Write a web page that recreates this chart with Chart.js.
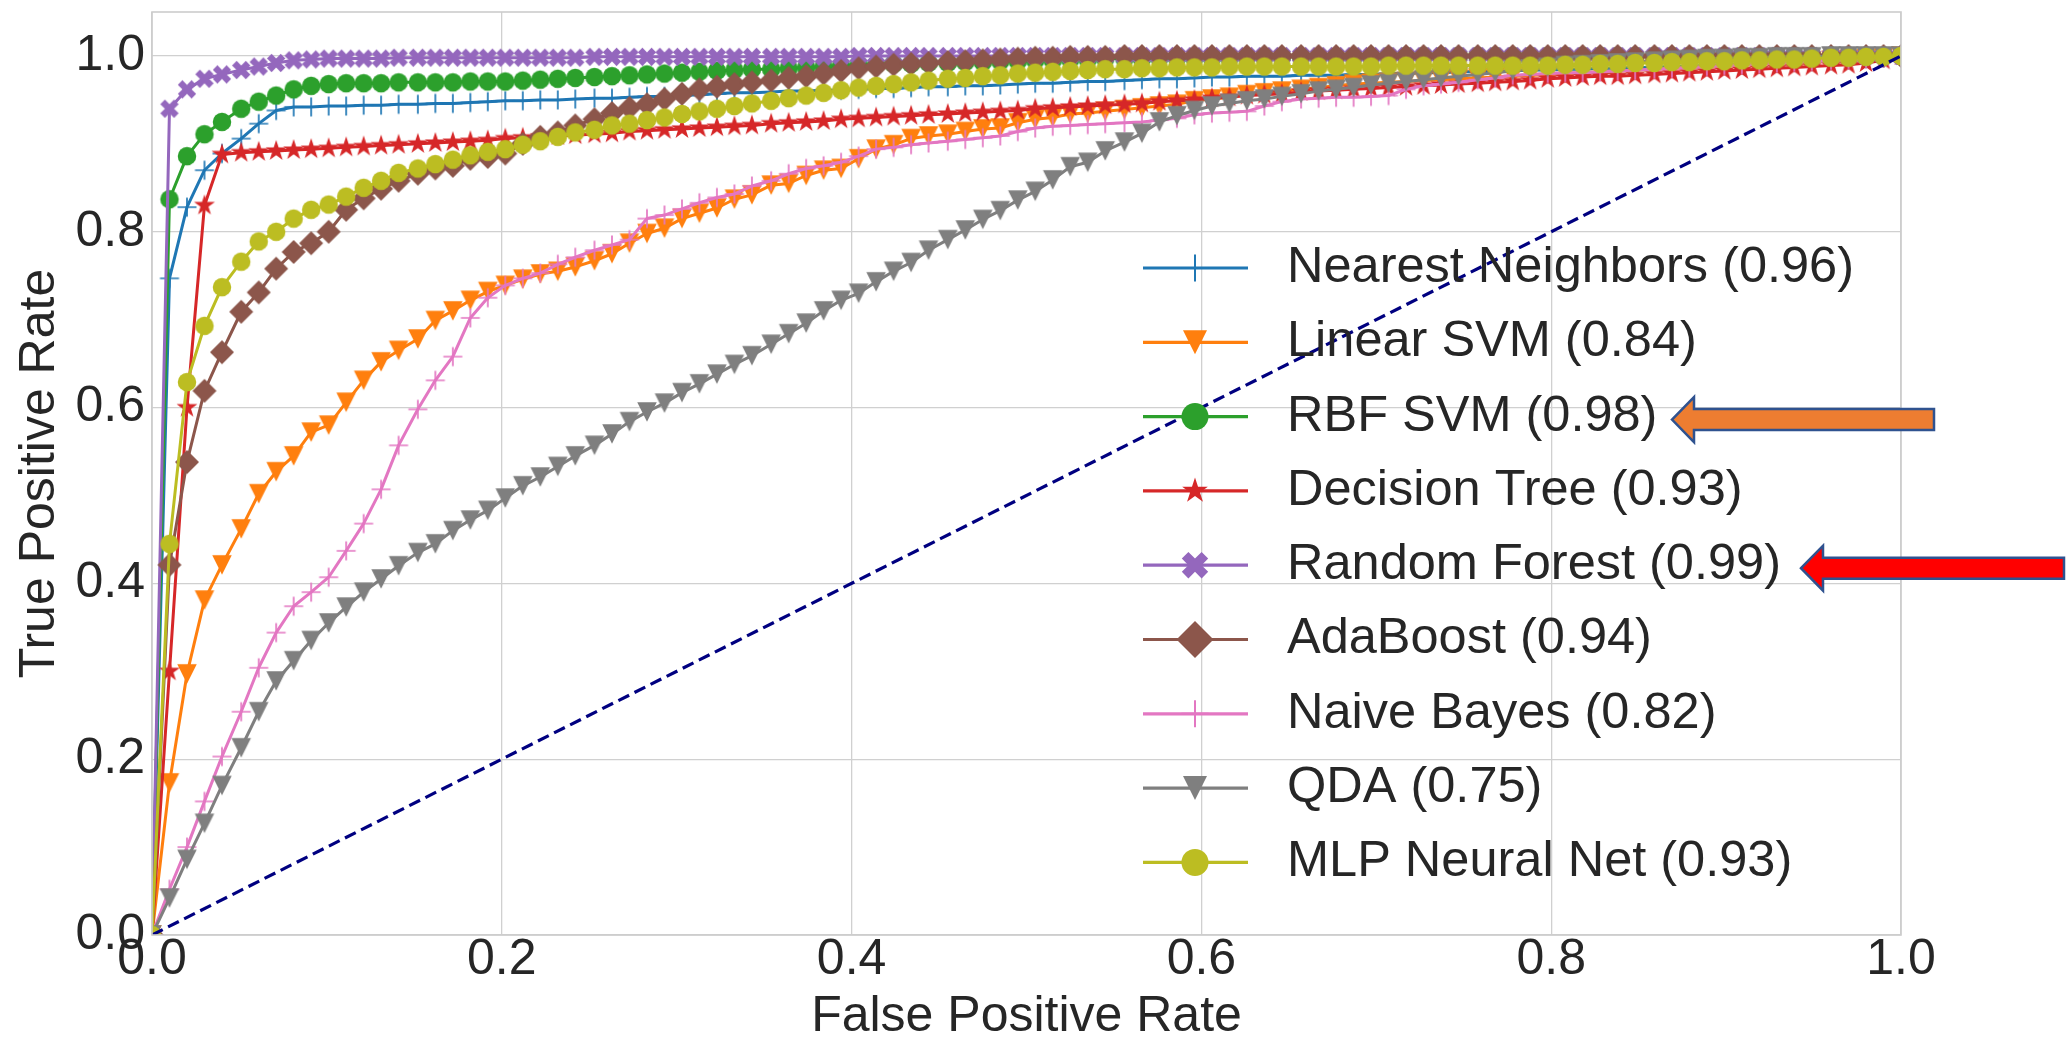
<!DOCTYPE html>
<html>
<head>
<meta charset="utf-8">
<title>ROC curves</title>
<script src="https://cdn.jsdelivr.net/npm/chart.js@4.4.1/dist/chart.umd.min.js"></script>
<style>
  html, body { margin: 0; padding: 0; background: #fff; }
  #roc { display: block; }
</style>
</head>
<body>
<canvas id="roc" width="2070" height="1038"></canvas>
<script>
// shared false positive rate grid (100 points from 0 to 1)
const fpr = [
  0.000, 0.010, 0.020, 0.030, 0.040, 0.051, 0.061, 0.071, 0.081, 0.091,
  0.101, 0.111, 0.121, 0.131, 0.141, 0.152, 0.162, 0.172, 0.182, 0.192,
  0.202, 0.212, 0.222, 0.232, 0.242, 0.253, 0.263, 0.273, 0.283, 0.293,
  0.303, 0.313, 0.323, 0.333, 0.343, 0.354, 0.364, 0.374, 0.384, 0.394,
  0.404, 0.414, 0.424, 0.434, 0.444, 0.455, 0.465, 0.475, 0.485, 0.495,
  0.505, 0.515, 0.525, 0.535, 0.545, 0.556, 0.566, 0.576, 0.586, 0.596,
  0.606, 0.616, 0.626, 0.636, 0.646, 0.657, 0.667, 0.677, 0.687, 0.697,
  0.707, 0.717, 0.727, 0.737, 0.747, 0.758, 0.768, 0.778, 0.788, 0.798,
  0.808, 0.818, 0.828, 0.838, 0.848, 0.859, 0.869, 0.879, 0.889, 0.899,
  0.909, 0.919, 0.929, 0.939, 0.949, 0.960, 0.970, 0.980, 0.990, 1.000
];

// mean true positive rate per classifier
const nearestNeighbors = [
  0, 0.747, 0.828, 0.870, 0.889, 0.906, 0.923, 0.938, 0.942, 0.942,
  0.943, 0.943, 0.944, 0.944, 0.945, 0.945, 0.946, 0.946, 0.947, 0.948,
  0.949, 0.949, 0.950, 0.950, 0.951, 0.952, 0.952, 0.953, 0.954, 0.954,
  0.955, 0.956, 0.957, 0.958, 0.958, 0.959, 0.960, 0.960, 0.961, 0.961,
  0.962, 0.963, 0.963, 0.964, 0.965, 0.965, 0.966, 0.966, 0.967, 0.968,
  0.969, 0.969, 0.970, 0.971, 0.971, 0.972, 0.973, 0.974, 0.974, 0.975,
  0.976, 0.976, 0.977, 0.977, 0.977, 0.978, 0.978, 0.978, 0.979, 0.979,
  0.980, 0.980, 0.981, 0.981, 0.982, 0.982, 0.983, 0.983, 0.984, 0.984,
  0.985, 0.985, 0.986, 0.986, 0.987, 0.987, 0.988, 0.988, 0.989, 0.990,
  0.990, 0.991, 0.992, 0.993, 0.994, 0.995, 0.996, 0.997, 0.998, 1.000
];
const linearSvm = [
  0, 0.173, 0.297, 0.381, 0.421, 0.462, 0.502, 0.527, 0.545, 0.572,
  0.580, 0.606, 0.631, 0.652, 0.665, 0.678, 0.699, 0.710, 0.722, 0.732,
  0.739, 0.746, 0.752, 0.755, 0.760, 0.767, 0.775, 0.787, 0.798, 0.804,
  0.815, 0.821, 0.827, 0.837, 0.842, 0.853, 0.855, 0.864, 0.870, 0.872,
  0.883, 0.894, 0.899, 0.906, 0.909, 0.911, 0.914, 0.917, 0.918, 0.924,
  0.928, 0.930, 0.934, 0.935, 0.937, 0.939, 0.941, 0.943, 0.945, 0.949,
  0.951, 0.953, 0.956, 0.958, 0.960, 0.962, 0.964, 0.966, 0.968, 0.969,
  0.970, 0.971, 0.972, 0.973, 0.974, 0.975, 0.976, 0.977, 0.978, 0.979,
  0.980, 0.981, 0.982, 0.983, 0.984, 0.985, 0.986, 0.987, 0.988, 0.989,
  0.990, 0.991, 0.992, 0.993, 0.994, 0.995, 0.996, 0.997, 0.998, 1.000
];
const rbfSvm = [
  0, 0.837, 0.886, 0.911, 0.925, 0.940, 0.948, 0.955, 0.962, 0.966,
  0.968, 0.969, 0.969, 0.969, 0.970, 0.970, 0.970, 0.970, 0.971, 0.971,
  0.971, 0.972, 0.973, 0.974, 0.975, 0.976, 0.977, 0.978, 0.979, 0.980,
  0.981, 0.982, 0.983, 0.984, 0.985, 0.985, 0.986, 0.987, 0.988, 0.989,
  0.990, 0.990, 0.991, 0.991, 0.992, 0.992, 0.993, 0.993, 0.994, 0.994,
  0.995, 0.995, 0.996, 0.996, 0.997, 0.997, 0.997, 0.998, 0.998, 0.998,
  0.998, 0.998, 0.999, 0.999, 0.999, 0.999, 0.999, 0.999, 0.999, 0.999,
  1.000, 1.000, 1.000, 1.000, 1.000, 1.000, 1.000, 1.000, 1.000, 1.000,
  1.000, 1.000, 1.000, 1.000, 1.000, 1.000, 1.000, 1.000, 1.000, 1.000,
  1.000, 1.000, 1.000, 1.000, 1.000, 1.000, 1.000, 1.000, 1.000, 1.000
];
const decisionTree = [
  0, 0.300, 0.600, 0.830, 0.888, 0.890, 0.891, 0.892, 0.893, 0.894,
  0.895, 0.896, 0.897, 0.898, 0.899, 0.900, 0.901, 0.902, 0.903, 0.904,
  0.906, 0.907, 0.908, 0.909, 0.910, 0.911, 0.912, 0.914, 0.915, 0.916,
  0.917, 0.918, 0.919, 0.920, 0.921, 0.923, 0.924, 0.925, 0.926, 0.928,
  0.929, 0.930, 0.931, 0.932, 0.933, 0.934, 0.935, 0.936, 0.937, 0.938,
  0.940, 0.941, 0.942, 0.943, 0.944, 0.945, 0.946, 0.948, 0.949, 0.950,
  0.952, 0.953, 0.955, 0.956, 0.957, 0.959, 0.960, 0.961, 0.962, 0.963,
  0.964, 0.965, 0.966, 0.967, 0.968, 0.969, 0.970, 0.971, 0.972, 0.974,
  0.975, 0.976, 0.977, 0.977, 0.978, 0.979, 0.980, 0.981, 0.982, 0.983,
  0.984, 0.985, 0.986, 0.987, 0.988, 0.989, 0.990, 0.992, 0.995, 1.000
];
const randomForest = [
  0, 0.940, 0.962, 0.974, 0.979, 0.984, 0.988, 0.992, 0.995, 0.996,
  0.997, 0.997, 0.997, 0.997, 0.998, 0.998, 0.998, 0.998, 0.998, 0.998,
  0.998, 0.998, 0.998, 0.998, 0.998, 0.999, 0.999, 0.999, 0.999, 0.999,
  0.999, 0.999, 0.999, 0.999, 0.999, 0.999, 0.999, 0.999, 0.999, 0.999,
  1.000, 1.000, 1.000, 1.000, 1.000, 1.000, 1.000, 1.000, 1.000, 1.000,
  1.000, 1.000, 1.000, 1.000, 1.000, 1.000, 1.000, 1.000, 1.000, 1.000,
  1.000, 1.000, 1.000, 1.000, 1.000, 1.000, 1.000, 1.000, 1.000, 1.000,
  1.000, 1.000, 1.000, 1.000, 1.000, 1.000, 1.000, 1.000, 1.000, 1.000,
  1.000, 1.000, 1.000, 1.000, 1.000, 1.000, 1.000, 1.000, 1.000, 1.000,
  1.000, 1.000, 1.000, 1.000, 1.000, 1.000, 1.000, 1.000, 1.000, 1.000
];
const adaBoost = [
  0, 0.421, 0.538, 0.619, 0.663, 0.709, 0.731, 0.758, 0.777, 0.787,
  0.800, 0.825, 0.838, 0.849, 0.858, 0.866, 0.872, 0.875, 0.883, 0.885,
  0.889, 0.900, 0.908, 0.913, 0.921, 0.928, 0.935, 0.941, 0.945, 0.951,
  0.957, 0.962, 0.965, 0.968, 0.970, 0.972, 0.975, 0.977, 0.980, 0.983,
  0.986, 0.988, 0.990, 0.991, 0.992, 0.993, 0.994, 0.995, 0.996, 0.997,
  0.998, 0.998, 0.999, 0.999, 0.999, 1.000, 1.000, 1.000, 1.000, 1.000,
  1.000, 1.000, 1.000, 1.000, 1.000, 1.000, 1.000, 1.000, 1.000, 1.000,
  1.000, 1.000, 1.000, 1.000, 1.000, 1.000, 1.000, 1.000, 1.000, 1.000,
  1.000, 1.000, 1.000, 1.000, 1.000, 1.000, 1.000, 1.000, 1.000, 1.000,
  1.000, 1.000, 1.000, 1.000, 1.000, 1.000, 1.000, 1.000, 1.000, 1.000
];
const naiveBayes = [
  0, 0.052, 0.100, 0.152, 0.203, 0.254, 0.304, 0.344, 0.374, 0.390,
  0.407, 0.437, 0.468, 0.507, 0.557, 0.598, 0.631, 0.658, 0.702, 0.725,
  0.739, 0.747, 0.753, 0.763, 0.771, 0.779, 0.785, 0.791, 0.815, 0.819,
  0.826, 0.833, 0.839, 0.843, 0.852, 0.858, 0.866, 0.872, 0.875, 0.879,
  0.886, 0.894, 0.896, 0.899, 0.901, 0.903, 0.905, 0.907, 0.909, 0.914,
  0.918, 0.920, 0.921, 0.922, 0.923, 0.924, 0.925, 0.927, 0.929, 0.933,
  0.935, 0.936, 0.937, 0.943, 0.948, 0.951, 0.952, 0.953, 0.953, 0.954,
  0.955, 0.962, 0.966, 0.968, 0.970, 0.973, 0.975, 0.978, 0.979, 0.980,
  0.981, 0.981, 0.982, 0.983, 0.984, 0.985, 0.986, 0.987, 0.988, 0.989,
  0.990, 0.991, 0.992, 0.993, 0.994, 0.995, 0.996, 0.997, 0.998, 1.000
];
const qda = [
  0, 0.042, 0.086, 0.127, 0.170, 0.213, 0.254, 0.289, 0.312, 0.335,
  0.355, 0.373, 0.390, 0.405, 0.420, 0.435, 0.445, 0.460, 0.472, 0.483,
  0.497, 0.511, 0.521, 0.533, 0.545, 0.557, 0.570, 0.584, 0.595, 0.605,
  0.617, 0.627, 0.638, 0.649, 0.659, 0.672, 0.684, 0.696, 0.710, 0.722,
  0.730, 0.743, 0.755, 0.765, 0.779, 0.791, 0.802, 0.814, 0.824, 0.836,
  0.846, 0.859, 0.874, 0.879, 0.892, 0.902, 0.912, 0.925, 0.932, 0.938,
  0.943, 0.946, 0.949, 0.951, 0.954, 0.957, 0.960, 0.962, 0.964, 0.967,
  0.969, 0.971, 0.973, 0.975, 0.977, 0.979, 0.981, 0.983, 0.985, 0.987,
  0.989, 0.990, 0.991, 0.992, 0.993, 0.994, 0.995, 0.996, 0.997, 0.997,
  0.998, 0.998, 0.999, 0.999, 0.999, 1.000, 1.000, 1.000, 1.000, 1.000
];
const mlp = [
  0, 0.445, 0.629, 0.693, 0.737, 0.766, 0.789, 0.800, 0.815, 0.825,
  0.831, 0.840, 0.850, 0.858, 0.867, 0.872, 0.877, 0.882, 0.887, 0.891,
  0.894, 0.899, 0.903, 0.908, 0.913, 0.916, 0.921, 0.923, 0.927, 0.930,
  0.934, 0.937, 0.940, 0.943, 0.946, 0.949, 0.952, 0.955, 0.958, 0.961,
  0.964, 0.966, 0.968, 0.970, 0.972, 0.974, 0.975, 0.977, 0.978, 0.980,
  0.981, 0.982, 0.983, 0.984, 0.985, 0.985, 0.986, 0.986, 0.987, 0.987,
  0.987, 0.988, 0.988, 0.988, 0.988, 0.988, 0.988, 0.988, 0.988, 0.988,
  0.989, 0.989, 0.989, 0.989, 0.989, 0.989, 0.989, 0.989, 0.989, 0.989,
  0.990, 0.990, 0.991, 0.991, 0.992, 0.992, 0.993, 0.993, 0.994, 0.994,
  0.995, 0.995, 0.996, 0.996, 0.997, 0.998, 0.998, 0.999, 0.999, 1.000
];

const names = ['Nearest Neighbors', 'Linear SVM', 'RBF SVM', 'Decision Tree', 'Random Forest',
               'AdaBoost', 'Naive Bayes', 'QDA', 'MLP Neural Net'];
const auc = [0.96, 0.84, 0.98, 0.93, 0.99, 0.94, 0.82, 0.75, 0.93];
const colors = ['#1f77b4', '#ff7f0e', '#2ca02c', '#d62728', '#9467bd',
                '#8c564b', '#e377c2', '#7f7f7f', '#bcbd22'];
const markers = ['plus', 'triDown', 'circle', 'star', 'xFilled', 'diamond', 'plus', 'triDown', 'circle'];
const xTicks = [0, 0.2, 0.4, 0.6, 0.8, 1.0];
const yTicks = [0, 0.2, 0.4, 0.6, 0.8, 1.0];

const series = [nearestNeighbors, linearSvm, rbfSvm, decisionTree, randomForest,
                adaBoost, naiveBayes, qda, mlp];

const FONT = '"Liberation Sans", Arial, sans-serif';
const TEXT = '#262626';
const GRID = '#d0d0d0';

// marker sizes (full span in px) on the curves and in the legend
const plotSize = { circle: 18.5, diamond: 24, triDown: 19.5, star: 22, xFilled: 19.5, plus: 19 };
const legendSize = { circle: 27, diamond: 37, triDown: 24, star: 27, xFilled: 28, plus: 27 };

function markerPath(ctx, kind, s) {
  const h = s / 2;
  ctx.beginPath();
  if (kind === 'circle') {
    ctx.arc(0, 0, h, 0, Math.PI * 2);
  } else if (kind === 'diamond') {
    ctx.moveTo(0, -h); ctx.lineTo(h, 0); ctx.lineTo(0, h); ctx.lineTo(-h, 0); ctx.closePath();
  } else if (kind === 'triDown') {
    ctx.moveTo(-h, -h); ctx.lineTo(h, -h); ctx.lineTo(0, h); ctx.closePath();
  } else if (kind === 'star') {
    for (let k = 0; k < 10; k++) {
      const r = k % 2 ? h * 0.382 : h;
      const a = -Math.PI / 2 + k * Math.PI / 5;
      if (k) ctx.lineTo(r * Math.cos(a), r * Math.sin(a));
      else ctx.moveTo(r * Math.cos(a), r * Math.sin(a));
    }
    ctx.closePath();
  } else if (kind === 'xFilled') {
    // filled plus turned by 45 degrees
    const b = s / 6, c = Math.SQRT1_2;
    const pts = [[-b, -h], [b, -h], [b, -b], [h, -b], [h, b], [b, b],
                 [b, h], [-b, h], [-b, b], [-h, b], [-h, -b], [-b, -b]];
    pts.forEach(([px, py], k) => {
      const rx = (px - py) * c, ry = (px + py) * c;
      if (k) ctx.lineTo(rx, ry); else ctx.moveTo(rx, ry);
    });
    ctx.closePath();
  } else if (kind === 'plus') {
    ctx.moveTo(-h, 0); ctx.lineTo(h, 0);
    ctx.moveTo(0, -h); ctx.lineTo(0, h);
  }
}

function drawMarker(ctx, kind, s, color, lw) {
  markerPath(ctx, kind, s);
  if (kind === 'plus') {
    ctx.strokeStyle = color;
    ctx.lineWidth = lw;
    ctx.stroke();
  } else {
    ctx.fillStyle = color;
    ctx.fill();
  }
}

function makeMarker(kind, s, color) {
  const c = document.createElement('canvas');
  const dim = 2 * Math.ceil(s / 2 + 3);
  c.width = c.height = dim;
  const g = c.getContext('2d');
  g.translate(dim / 2, dim / 2);
  drawMarker(g, kind, s, color, 1.7);
  return c;
}

const datasets = series.map((tpr, i) => ({
  label: `${names[i]} (${auc[i].toFixed(2)})`,
  data: fpr.map((x, k) => ({ x: x, y: tpr[k] })),
  borderColor: colors[i],
  backgroundColor: colors[i],
  borderWidth: 3,
  borderJoinStyle: 'round',
  pointStyle: makeMarker(markers[i], plotSize[markers[i]], colors[i]),
  pointRadius: 9,
  tension: 0,
  order: series.length - i
}));

// chance line
datasets.push({
  label: '',
  data: [{ x: 0, y: 0 }, { x: 1, y: 1 }],
  borderColor: '#000080',
  borderDash: [12, 6],
  borderWidth: 3.2,
  pointRadius: 0,
  order: 0
});

function blockArrow(ctx, tipX, y, tailX, fill) {
  const headLen = 22, headHalf = 22.5, shaftHalf = 10.5;
  ctx.beginPath();
  ctx.moveTo(tipX, y);
  ctx.lineTo(tipX + headLen, y - headHalf);
  ctx.lineTo(tipX + headLen, y - shaftHalf);
  ctx.lineTo(tailX, y - shaftHalf);
  ctx.lineTo(tailX, y + shaftHalf);
  ctx.lineTo(tipX + headLen, y + shaftHalf);
  ctx.lineTo(tipX + headLen, y + headHalf);
  ctx.closePath();
  ctx.fillStyle = fill;
  ctx.fill();
  ctx.strokeStyle = '#2f528f';
  ctx.lineWidth = 2.5;
  ctx.stroke();
}

const decorations = {
  id: 'decorations',
  afterDraw(chart) {
    const { ctx, chartArea: a } = chart;
    ctx.save();

    // frame around the plot area
    ctx.strokeStyle = '#cccccc';
    ctx.lineWidth = 1.6;
    ctx.strokeRect(a.left, a.top, a.right - a.left, a.bottom - a.top);

    // axis titles
    ctx.fillStyle = TEXT;
    ctx.font = `50px ${FONT}`;
    ctx.textAlign = 'center';
    ctx.textBaseline = 'middle';
    ctx.fillText('False Positive Rate', (a.left + a.right) / 2, 1017);
    ctx.save();
    ctx.translate(40, (a.top + a.bottom) / 2);
    ctx.rotate(-Math.PI / 2);
    ctx.fillText('True Positive Rate', 0, 0);
    ctx.restore();

    // legend
    const rowTop = 268, rowGap = 74.3;
    ctx.textAlign = 'left';
    ctx.font = `50.5px ${FONT}`;
    chart.data.datasets.slice(0, series.length).forEach((ds, i) => {
      const y = rowTop + i * rowGap;
      ctx.beginPath();
      ctx.moveTo(1143, y);
      ctx.lineTo(1248, y);
      ctx.strokeStyle = ds.borderColor;
      ctx.lineWidth = 3.2;
      ctx.stroke();
      ctx.save();
      ctx.translate(1195, y);
      drawMarker(ctx, markers[i], legendSize[markers[i]], ds.borderColor, 2);
      ctx.restore();
      ctx.fillStyle = TEXT;
      ctx.fillText(ds.label, 1287, y);
    });

    // arrows pointing at the two best models
    blockArrow(ctx, 1672, rowTop + 2 * rowGap + 3, 1934, '#ed7d31');
    blockArrow(ctx, 1801, rowTop + 4 * rowGap + 3, 2064, '#ff0000');

    ctx.restore();
  }
};

new Chart(document.getElementById('roc'), {
  type: 'line',
  data: { datasets: datasets },
  plugins: [decorations],
  options: {
    responsive: false,
    animation: false,
    layout: { padding: { left: 0, top: 7, right: 169, bottom: 0 } },
    plugins: {
      legend: { display: false },
      tooltip: { enabled: false }
    },
    scales: {
      x: {
        type: 'linear',
        min: 0,
        max: 1,
        afterBuildTicks: s => { s.ticks = xTicks.map(v => ({ value: v })); },
        afterFit: s => { s.height = 103; s.paddingLeft = 0; s.paddingRight = 0; },
        grid: { color: GRID, lineWidth: 1.3, drawTicks: false },
        border: { display: false },
        ticks: {
          color: TEXT,
          font: { family: FONT, size: 50, lineHeight: 1 },
          padding: 0,
          maxRotation: 0,
          callback: v => v.toFixed(1)
        }
      },
      y: {
        type: 'linear',
        min: 0,
        max: 1.05,
        afterBuildTicks: s => { s.ticks = yTicks.map(v => ({ value: v })); },
        afterFit: s => { s.width = 152; s.paddingTop = 0; s.paddingBottom = 0; },
        grid: { color: GRID, lineWidth: 1.3, drawTicks: false },
        border: { display: false },
        ticks: {
          color: TEXT,
          font: { family: FONT, size: 50, lineHeight: 1 },
          padding: 7,
          callback: v => v.toFixed(1)
        }
      }
    }
  }
});
</script>
</body>
</html>
